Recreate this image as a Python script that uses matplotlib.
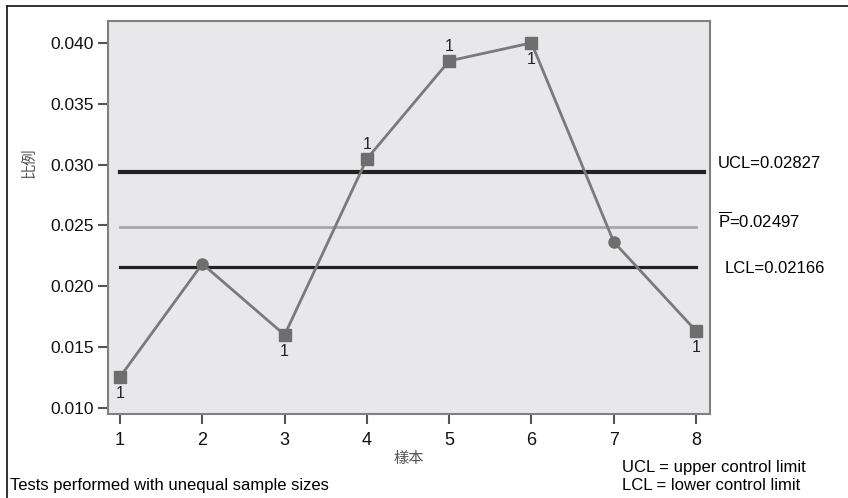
import matplotlib.pyplot as plt
import numpy as np
from matplotlib import font_manager

samples = [1, 2, 3, 4, 5, 6, 7, 8]
proportion = [0.01255, 0.02184, 0.0160, 0.03047, 0.03852, 0.0400, 0.02364, 0.01633]
flagged = [True, False, True, True, True, True, False, True]
flag_above = [False, False, False, True, True, False, False, False]
ucl_line = 0.0294
p_bar = 0.02488
lcl_line = 0.02159
yticks = [0.010, 0.015, 0.020, 0.025, 0.030, 0.035, 0.040]

names = {f.name for f in font_manager.fontManager.ttflist}
narrow = 'Liberation Sans Narrow' if 'Liberation Sans Narrow' in names else 'Liberation Sans'
plt.rcParams['font.family'] = ['Liberation Sans', 'Noto Sans CJK TC', 'DejaVu Sans']
plt.rcParams['mathtext.fontset'] = 'custom'
plt.rcParams['mathtext.rm'] = 'Liberation Sans'

fig = plt.figure(figsize=(8.48, 4.98), dpi=100)
ax = fig.add_axes([0.1274, 0.1687, 0.7099, 0.7892])
ax.set_facecolor('#e8e8ea')

line_col = '#7a7a7a'
ax.plot(samples, proportion, color=line_col, lw=2, zorder=3)
for x, y, f in zip(samples, proportion, flagged):
    ax.plot(x, y, marker='s' if f else 'o', ms=8.5 if f else 8, color='#6e6e6e',
            mec='#6e6e6e', zorder=4)

for x, y, f, up in zip(samples, proportion, flagged, flag_above):
    if f:
        ax.annotate('1', (x, y), xytext=(0, 10 if up else -12), textcoords='offset points',
                    ha='center', va='center', fontsize=11.5, color='#222222')

ax.plot([1, 8.1], [ucl_line, ucl_line], color='#222222', lw=3, zorder=2)
ax.plot([1, 8], [p_bar, p_bar], color='#a8a8a8', lw=2, zorder=2)
ax.plot([1, 8], [lcl_line, lcl_line], color='#222222', lw=2.3, zorder=2)

ax.set_xlim(0.854, 8.17)
ax.set_ylim(0.0095, 0.0418)
ax.set_xticks(samples)
ax.set_xticklabels([str(s) for s in samples], fontsize=13, family=narrow)
ax.set_yticks(yticks)
ax.set_yticklabels(['%.3f' % v for v in yticks], fontsize=12.5)
ax.tick_params(axis='both', direction='out', length=7, width=1.5, color='#555555',
               labelcolor='#111111', pad=3)
ax.tick_params(axis='x', pad=6)
for s in ax.spines.values():
    s.set_color('#808080')
    s.set_linewidth(1.5)

ax.set_xlabel('樣本', fontsize=11, color='#555555', family=['Noto Sans CJK TC'], labelpad=1)
ax.set_ylabel('比例', fontsize=11, color='#555555', family=['Noto Sans CJK TC'])
ax.yaxis.set_label_coords(-0.118, 0.64)

fig.text(718 / 848, 1 - 163 / 498, 'UCL=0.02827', fontsize=12, va='center', ha='left')
fig.text(718 / 848, 1 - 221 / 498, r'$\overline{\mathrm{P}}$=0.02497', fontsize=12,
         va='center', ha='left')
fig.text(725 / 848, 1 - 268 / 498, 'LCL=0.02166', fontsize=12, va='center', ha='left')

fig.text(10 / 848, 1 - 485 / 498, 'Tests performed with unequal sample sizes', fontsize=12,
         va='center', ha='left', family=narrow)
fig.text(622 / 848, 1 - 467 / 498, 'UCL = upper control limit', fontsize=12,
         va='center', ha='left', family=narrow)
fig.text(622 / 848, 1 - 485 / 498, 'LCL = lower control limit', fontsize=12,
         va='center', ha='left', family=narrow)

# outer frame (top and left visible in reference)
fig.add_artist(plt.Line2D([7 / 848, 7 / 848], [0, 1 - 6 / 498], color='#222222', lw=1.3,
                          transform=fig.transFigure))
fig.add_artist(plt.Line2D([7 / 848, 1], [1 - 6 / 498, 1 - 6 / 498], color='#222222', lw=1.3,
                          transform=fig.transFigure))

fig.savefig('out.png', dpi=100)
